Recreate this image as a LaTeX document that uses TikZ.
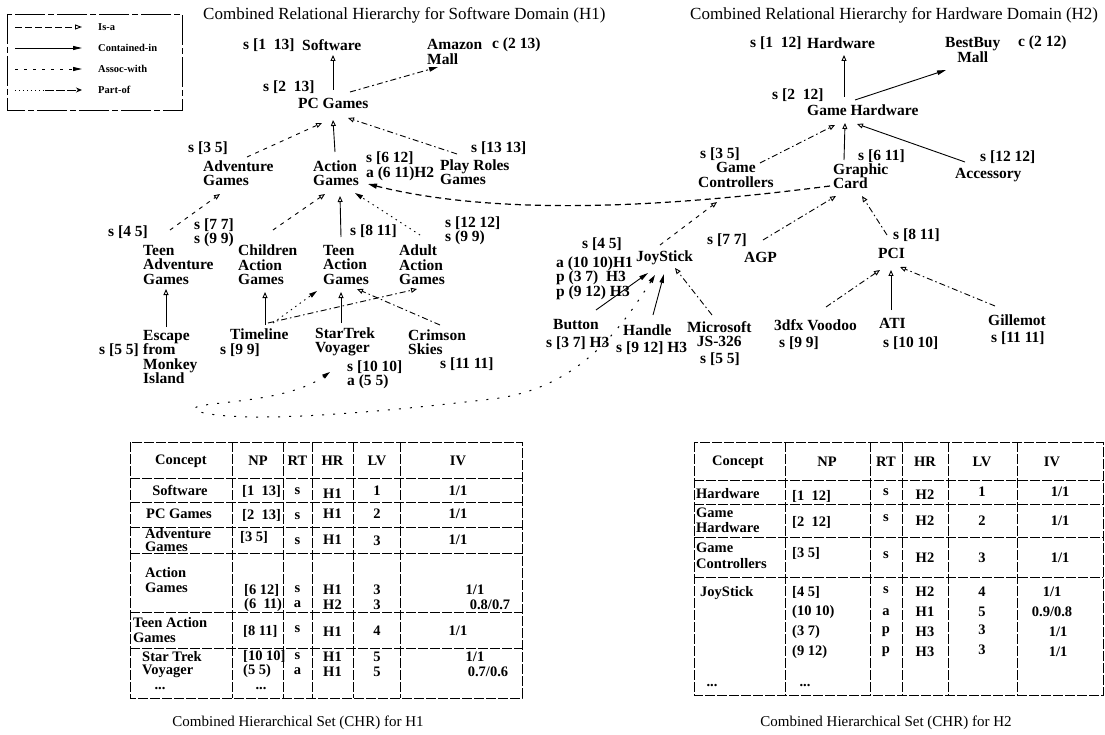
\documentclass[tikz,border=0pt]{standalone}
\usepackage{fontspec}
\setmainfont{Liberation Serif}
\usetikzlibrary{arrows.meta}
\begin{document}
\begin{tikzpicture}[x=1pt,y=-1pt,
  lbl/.style={inner sep=0pt,anchor=west,align=left,font=\fontsize{15.5}{14.5}\selectfont\bfseries},
  ttl/.style={inner sep=0pt,anchor=west,font=\fontsize{17}{20}\selectfont},
  captxt/.style={inner sep=0pt,font=\fontsize{15}{18}\selectfont},
  tcell/.style={inner sep=0pt,align=center,font=\fontsize{14.5}{12}\selectfont\bfseries},
  tcellw/.style={tcell,anchor=west,align=left},
  lgt/.style={inner sep=0pt,anchor=west,font=\fontsize{10.5}{12}\selectfont\bfseries},
  tline/.style={line width=0.8pt,dash pattern=on 10pt off 2pt},
  lgbox/.style={line width=0.8pt,dash pattern=on 30pt off 3pt on 6pt off 3pt},
  isasolid/.style={line width=0.9pt,-{Triangle[open,length=6pt,width=5pt]}},
  isadash/.style={isasolid,dash pattern=on 4pt off 5pt},
  isadashdot/.style={isasolid,dash pattern=on 6pt off 3pt on 1.5pt off 3pt},
  assocdotted/.style={line width=0.9pt,dash pattern=on 1.5pt off 4pt,-{Triangle[length=8pt,width=4.5pt]}},
  contsolid/.style={line width=0.9pt,-{Triangle[length=9pt,width=4.5pt]}},
  contdash/.style={contsolid,dash pattern=on 6pt off 3pt on 2pt off 3pt},
  assocthick/.style={line width=1.2pt,dash pattern=on 6pt off 4pt,-{Triangle[length=9pt,width=5pt]}},
  assocsparse/.style={line width=1pt,dash pattern=on 2pt off 9pt,{Triangle[length=8pt,width=4.5pt]}-{Triangle[length=8pt,width=4.5pt]}}
]
\useasboundingbox[fill=white] (0,0) rectangle (1105,735);

% ---------------- legend ----------------
\draw[lgbox] (7,14) rectangle (182,110);
\node[lgt] (lg1) at (98,27) {Is-a};
\node[lgt] (lg2) at (98,48) {Contained-in};
\node[lgt] (lg3) at (98,69) {Assoc-with};
\node[lgt] (lg4) at (98,90) {Part-of};
\coordinate (lgs1) at (15,27);
\coordinate (lgs2) at (15,48);
\coordinate (lgs3) at (15,69);
\coordinate (lgs4) at (15,90);
\coordinate (lgm4) at (45,90);
\draw[line width=0.9pt,dash pattern=on 7pt off 3pt,-{Triangle[open,length=7pt,width=5pt]}] (lgs1) -- ([xshift=-16pt]lg1.west);
\draw[line width=0.9pt,-{Triangle[length=9pt,width=4pt]}] (lgs2) -- ([xshift=-16pt]lg2.west);
\draw[line width=0.9pt,dash pattern=on 3pt off 6pt,-{Triangle[length=9pt,width=4pt]}] (lgs3) -- ([xshift=-16pt]lg3.west);
\draw[line width=0.9pt,dash pattern=on 1pt off 3pt] (lgs4) -- (lgm4);
\draw[line width=0.9pt,dash pattern=on 9pt off 2pt,-{Stealth[length=6pt,width=5pt]}] (lgm4) -- ([xshift=-16pt]lg4.west);

% ---------------- titles ----------------
\node[ttl] (t1) at (203,15) {Combined Relational Hierarchy for Software Domain (H1)};
\node[ttl] (t2) at (690,15) {Combined Relational Hierarchy for Hardware Domain (H2)};

% ---------------- left hierarchy ----------------
\node[lbl] (ls1) at (243,45) {s [1~~13]};
\node[lbl] (soft) at (302,45) {Software};
\node[lbl] (amz) at (427,52) {Amazon\\Mall};
\node[lbl] (lc1) at (492,45) {c (2 13)};
\node[lbl] (ls2) at (263,87) {s [2~~13]};
\node[lbl] (pc) at (298,103) {PC Games};
\node[lbl] (ls3) at (188,148) {s [3 5]};
\node[lbl] (adv) at (203,173) {Adventure\\Games};
\node[lbl] (act) at (313,173) {Action\\Games};
\node[lbl] (ls4) at (366,166.5) {s [6 12]\\a (6 11)H2};
\node[lbl] (ls5) at (471,148) {s [13 13]};
\node[lbl] (play) at (440,172) {Play Roles\\Games};
\node[lbl] (ls6) at (108,232) {s [4 5]};
\node[lbl] (ls7) at (194,233) {s [7 7]\\s (9 9)};
\node[lbl] (tadv) at (143,265) {Teen\\Adventure\\Games};
\node[lbl] (child) at (238,265) {Children\\Action\\Games};
\node[lbl] (ls8) at (350,231) {s [8 11]};
\node[lbl] (tact) at (323,265) {Teen\\Action\\Games};
\node[lbl] (ls9) at (445,231) {s [12 12]\\s (9 9)};
\node[lbl] (adult) at (399,265) {Adult\\Action\\Games};
\node[lbl] (esc) at (143,357) {Escape\\from\\Monkey\\Island};
\node[lbl,anchor=east] (ls10) at (139,350) {s [5 5]};
\node[lbl] (tl) at (230,334) {Timeline};
\node[lbl] (ls11) at (220,350) {s [9 9]};
\node[lbl] (star) at (315,342) {StarTrek\\Voyager};
\node[lbl] (crim) at (408,342) {Crimson\\Skies};
\node[lbl] (ls12) at (440,364) {s [11 11]};
\node[lbl] (ls13) at (347,375) {s [10 10]\\a (5 5)};

\draw[isasolid] ([shift={(35,-13)}]pc.west) -- ([shift={(31,10)}]soft.west);
\draw[contdash] ([shift={(52,-11)}]pc.west) -- ([shift={(11,15)}]amz.west);
\draw[isadash] ([shift={(44,-16)}]adv.west) -- ([shift={(24,20)}]pc.west);
\draw[isasolid] ([shift={(22,-21)}]act.west) -- ([shift={(35,17)}]pc.west);
\draw[isadashdot] ([shift={(17,-18)}]play.west) -- ([shift={(50,15)}]pc.west);
\draw[isadash] ([shift={(27,-35)}]tadv.west) -- ([shift={(17,21)}]adv.west);
\draw[isadash] ([shift={(35,-35)}]child.west) -- ([shift={(12,21)}]act.west);
\draw[isasolid] ([shift={(18,-28)}]tact.west) -- ([shift={(27,23)}]act.west);
\draw[assocdotted] ([shift={(21,-30)}]adult.west) -- ([shift={(42,20)}]act.west);
\draw[isasolid] ([shift={(23,-30)}]esc.west) -- ([shift={(23,24)}]tadv.west);
\draw[isasolid] ([shift={(35,-9)}]tl.west) -- ([shift={(27,27)}]child.west);
\draw[assocdotted] ([shift={(43,-11)}]tl.west) -- ([shift={(-6,26)}]tact.west);
\draw[isadashdot] ([shift={(38,-11)}]tl.west) -- ([shift={(18,24)}]adult.west);
\draw[isasolid] ([shift={(26,-19)}]star.west) -- ([shift={(18,27)}]tact.west);
\draw[isadashdot] ([shift={(32,-17)}]crim.west) -- ([shift={(34,24)}]tact.west);

% ---------------- right hierarchy ----------------
\node[lbl] (rs1) at (750,43) {s [1~~12]};
\node[lbl] (hw) at (807,43) {Hardware};
\node[lbl,align=center] (best) at (945,50) {BestBuy\\Mall};
\node[lbl] (rc1) at (1018,43) {c (2 12)};
\node[lbl] (rs2) at (772,95) {s [2~~12]};
\node[lbl] (gh) at (807,110) {Game Hardware};
\node[lbl] (rs3) at (700,154) {s [3 5]};
\node[lbl,align=center] (gc) at (698,175) {Game\\Controllers};
\node[lbl] (rs4) at (858,156) {s [6 11]};
\node[lbl] (gcard) at (833,176) {Graphic\\Card};
\node[lbl] (rs5) at (980,157) {s [12 12]};
\node[lbl] (acc) at (955,175) {Accessory};
\node[lbl] (rs6) at (582,244) {s [4 5]};
\node[lbl,anchor=east] (rs7) at (633,278) {a (10 10)H1\\p (3 7)~~H3\\p (9 12) H3};
\node[lbl] (joy) at (636,258) {JoyStick};
\node[lbl] (rs8) at (707,240) {s [7 7]};
\node[lbl] (agp) at (744,257) {AGP};
\node[lbl] (rs9) at (893,235) {s [8 11]};
\node[lbl] (pci) at (878,253) {PCI};
\node[lbl] (btn) at (553,325) {Button};
\node[lbl] (rs10) at (546,343) {s [3 7] H3};
\node[lbl] (hand) at (623,330) {Handle};
\node[lbl] (rs11) at (616,348) {s [9 12] H3};
\node[lbl,align=center] (ms) at (687,334) {Microsoft\\JS-326};
\node[lbl] (rs12) at (700,359) {s [5 5]};
\node[lbl] (vood) at (774,325) {3dfx Voodoo};
\node[lbl] (rs13) at (779,343) {s [9 9]};
\node[lbl] (ati) at (879,323) {ATI};
\node[lbl] (rs14) at (883,343) {s [10 10]};
\node[lbl] (gil) at (988,320) {Gillemot};
\node[lbl] (rs15) at (991,338) {s [11 11]};

\draw[isasolid] ([shift={(37,-13)}]gh.west) -- ([shift={(37,12)}]hw.west);
\draw[contsolid] ([shift={(48,-10)}]gh.west) -- ([shift={(1,20)}]best.west);
\draw[isadashdot] ([shift={(62,-12)}]gc.west) -- ([shift={(28,15)}]gh.west);
\draw[isasolid] ([shift={(11,-16)}]gcard.west) -- ([shift={(38,13)}]gh.west);
\draw[isasolid] ([shift={(10,-13)}]acc.west) -- ([shift={(50,14)}]gh.west);
\draw[isadash] ([shift={(24,-13)}]joy.west) -- ([shift={(19,27)}]gc.west);
\draw[isadashdot] ([shift={(19,-17)}]agp.west) -- ([shift={(3,20)}]gcard.west);
\draw[isadashdot] ([shift={(9,-18)}]pci.west) -- ([shift={(29,20)}]gcard.west);
\draw[contsolid] ([shift={(43,-15)}]btn.west) -- ([shift={(12,15)}]joy.west);
\draw[contsolid] ([shift={(30,-15)}]hand.west) -- ([shift={(28,16)}]joy.west);
\draw[isadashdot] ([shift={(25,-19)}]ms.west) -- ([shift={(39,10)}]joy.west);
\draw[isadashdot] ([shift={(52,-18)}]vood.west) -- ([shift={(2,17)}]pci.west);
\draw[isasolid] ([shift={(12,-13)}]ati.west) -- ([shift={(13,17)}]pci.west);
\draw[isadashdot] ([shift={(7,-14)}]gil.west) -- ([shift={(22,14)}]pci.west);

% ---------------- cross-hierarchy associations ----------------
\draw[assocthick] ([shift={(-3,10)}]gcard.west) .. controls (720,200) and (520,222) .. ([shift={(55,11)}]act.west);
\draw[assocsparse] ([shift={(19,17)}]joy.west) .. controls (620,330) and (580,385) .. (500,398)
   .. controls (400,410) and (250,425) .. (200,412)
   .. controls (170,400) and (280,408) .. ([shift={(15,30)}]star.west);

% ---------------- left table ----------------
\draw[tline] (130,442) rectangle (522,698);
\foreach \xx in {232,283,312,353,400} \draw[tline] (\xx,442) -- (\xx,698);
\foreach \yy in {478,502,527,553,612,648} \draw[tline] (130,\yy) -- (522,\yy);
\node[tcell] (a00) at (181,461) {Concept};
\node[tcell] (a01) at (258,461) {NP};
\node[tcell] (a02) at (297.5,461) {RT};
\node[tcell] (a03) at (332.5,461) {HR};
\node[tcell] (a04) at (377,461) {LV};
\node[tcell] (a05) at (458,461) {IV};
\node[tcell] (a10) at (180,490) {Software};
\node[tcellw] (a11) at (242,491) {[1~~13]};
\node[tcell] (a12) at (297.5,491) {s};
\node[tcell] (a13) at (332.5,494) {H1};
\node[tcell] (a14) at (377,491) {1};
\node[tcell] (a15) at (458,491) {1/1};
\node[tcell] (a20) at (179,514) {PC Games};
\node[tcellw] (a21) at (242,515) {[2~~13]};
\node[tcell] (a22) at (297.5,516) {s};
\node[tcell] (a23) at (332.5,514) {H1};
\node[tcell] (a24) at (377,514) {2};
\node[tcell] (a25) at (458,514) {1/1};
\node[tcellw] (a30) at (145,533.5) {Adventure};
\node[tcellw] (a30b) at (145,547) {Games};
\node[tcellw] (a31) at (240,537) {[3 5]};
\node[tcell] (a32) at (297.5,541) {s};
\node[tcell] (a33) at (332.5,540) {H1};
\node[tcell] (a34) at (377,541) {3};
\node[tcell] (a35) at (458,540) {1/1};
\node[tcellw] (a40) at (145,573) {Action};
\node[tcellw] (a40b) at (145,588) {Games};
\node[tcellw] (a41) at (244,590) {[6 12]};
\node[tcellw] (a41b) at (244,605) {(6~~11)};
\node[tcell] (a42) at (297.5,589) {s};
\node[tcell] (a42b) at (297.5,604) {a};
\node[tcell] (a43) at (332.5,590) {H1};
\node[tcell] (a43b) at (332.5,605) {H2};
\node[tcell] (a44) at (377,590) {3};
\node[tcell] (a44b) at (377,605) {3};
\node[tcell] (a45) at (475,590) {1/1};
\node[tcell] (a46) at (490,605) {0.8/0.7};
\node[tcellw] (a50) at (133,622.5) {Teen Action};
\node[tcellw] (a50b) at (133,637.5) {Games};
\node[tcellw] (a51) at (243,631) {[8 11]};
\node[tcell] (a52) at (297.5,629) {s};
\node[tcell] (a53) at (332.5,632) {H1};
\node[tcell] (a54) at (377,631) {4};
\node[tcell] (a55) at (458,631) {1/1};
\node[tcellw] (a60) at (142,656.5) {Star Trek};
\node[tcellw] (a60b) at (142,671.5) {Voyager};
\node[tcell] (a61) at (160,689) {...};
\node[tcellw] (a62) at (243,656.5) {[10 10]};
\node[tcellw] (a62b) at (243,671.5) {(5 5)};
\node[tcell] (a63) at (261,689) {...};
\node[tcell] (a64) at (297.5,656.5) {s};
\node[tcell] (a64b) at (297.5,671.5) {a};
\node[tcell] (a65) at (332.5,656.5) {H1};
\node[tcell] (a65b) at (332.5,671.5) {H1};
\node[tcell] (a66) at (377,656.5) {5};
\node[tcell] (a66b) at (377,671.5) {5};
\node[tcell] (a67) at (475,656.5) {1/1};
\node[tcell] (a68) at (488,671.5) {0.7/0.6};
\node[captxt] (cap1) at (298,723) {Combined Hierarchical Set (CHR) for H1};

% ---------------- right table ----------------
\draw[tline] (694,442) rectangle (1103,695);
\foreach \xx in {785,870,902,948,1017} \draw[tline] (\xx,442) -- (\xx,695);
\foreach \yy in {480,504,537,577} \draw[tline] (694,\yy) -- (1103,\yy);
\node[tcell] (b00) at (738,462) {Concept};
\node[tcell] (b01) at (827,462) {NP};
\node[tcell] (b02) at (886,462) {RT};
\node[tcell] (b03) at (925,462) {HR};
\node[tcell] (b04) at (982,462) {LV};
\node[tcell] (b05) at (1052,462) {IV};
\node[tcellw] (b10) at (696,494) {Hardware};
\node[tcellw] (b11) at (792,496) {[1~~12]};
\node[tcell] (b12) at (886,492) {s};
\node[tcell] (b13) at (925,495) {H2};
\node[tcell] (b14) at (982,492) {1};
\node[tcell] (b15) at (1060,492) {1/1};
\node[tcellw] (b20) at (696,513) {Game};
\node[tcellw] (b20b) at (696,528) {Hardware};
\node[tcellw] (b21) at (792,522) {[2~~12]};
\node[tcell] (b22) at (886,518) {s};
\node[tcell] (b23) at (925,521) {H2};
\node[tcell] (b24) at (982,521) {2};
\node[tcell] (b25) at (1060,521) {1/1};
\node[tcellw] (b30) at (696,548) {Game};
\node[tcellw] (b30b) at (696,563.5) {Controllers};
\node[tcellw] (b31) at (792,553) {[3 5]};
\node[tcell] (b32) at (886,555) {s};
\node[tcell] (b33) at (925,558) {H2};
\node[tcell] (b34) at (982,558) {3};
\node[tcell] (b35) at (1060,558) {1/1};
\node[tcellw] (b40) at (700,593) {JoyStick};
\node[tcell] (b41) at (712,686) {...};
\node[tcellw] (b42) at (792,592) {[4 5]};
\node[tcellw] (b43) at (792,612) {(10 10)};
\node[tcellw] (b44) at (792,632) {(3 7)};
\node[tcellw] (b45) at (792,652) {(9 12)};
\node[tcell] (b46) at (805,686) {...};
\node[tcell] (b47) at (886,590) {s};
\node[tcell] (b48) at (886,612) {a};
\node[tcell] (b49) at (886,632) {p};
\node[tcell] (b50) at (886,652) {p};
\node[tcell] (b51) at (925,592) {H2};
\node[tcell] (b52) at (925,612) {H1};
\node[tcell] (b53) at (925,632) {H3};
\node[tcell] (b54) at (925,652) {H3};
\node[tcell] (b55) at (982,592) {4};
\node[tcell] (b56) at (982,612) {5};
\node[tcell] (b57) at (982,630) {3};
\node[tcell] (b58) at (982,650) {3};
\node[tcell] (b59) at (1052,592) {1/1};
\node[tcell] (b60) at (1052,612) {0.9/0.8};
\node[tcell] (b61) at (1058,632) {1/1};
\node[tcell] (b62) at (1058,652) {1/1};
\node[captxt] (cap2) at (886,723) {Combined Hierarchical Set (CHR) for H2};
\end{tikzpicture}
\end{document}
